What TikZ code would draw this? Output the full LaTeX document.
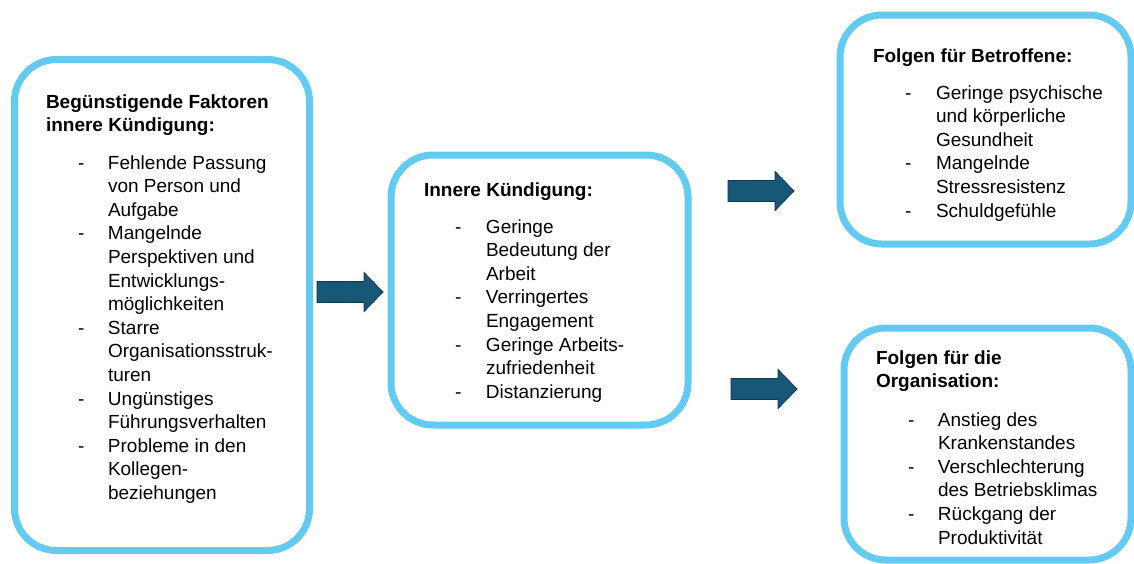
\documentclass[tikz,border=0pt]{standalone}
\usepackage{fontspec}
\setmainfont{Liberation Sans}
\definecolor{boxblue}{RGB}{99,203,242}
\definecolor{arrowfill}{RGB}{23,88,120}
\definecolor{arrowline}{RGB}{14,56,80}
\tikzset{
  box/.style={draw=boxblue, line width=7pt, rounded corners=42pt, fill=white, inner sep=0pt},
  txt/.style={inner sep=0pt, outer sep=0pt, anchor=base west, font=\fontsize{19pt}{23.6pt}\selectfont},
  head/.style={txt, font=\fontsize{19pt}{23.6pt}\selectfont\bfseries},
  arrowstyle/.style={fill=arrowfill, draw=arrowline, line width=0.8pt, line join=miter},
  barrow/.pic={\draw[arrowstyle] (0,-10.5) -- (47,-10.5) -- (47,-19.5) -- (66,0) -- (47,19.5) -- (47,10.5) -- (0,10.5) -- cycle;}
}
\begin{document}
\begin{tikzpicture}[x=1pt,y=-1pt]
\useasboundingbox (0,0) rectangle (1134,563);
% boxes
\node[box, minimum width=295pt, minimum height=491pt] (b1) at (162,305) {};
\node[box, minimum width=297pt, minimum height=270pt] (b2) at (539.5,290) {};
\node[box, minimum width=291pt, minimum height=229pt] (b3) at (985.5,129.5) {};
\node[box, minimum width=287pt, minimum height=232pt] (b4) at (987.5,444) {};
% box 1
\node[head] (h1) at (46,108) {\begin{tabular}[t]{@{}l@{}}Begünstigende Faktoren\\ innere Kündigung:\end{tabular}};
\node[txt] (l1) at (78,169) {\begin{tabular}[t]{@{}p{30pt}@{}l@{}}
-& Fehlende Passung\\
 & von Person und\\
 & Aufgabe\\
-& Mangelnde\\
 & Perspektiven und\\
 & Entwicklungs-\\
 & möglichkeiten\\
-& Starre\\
 & Organisationsstruk-\\
 & turen\\
-& Ungünstiges\\
 & Führungsverhalten\\
-& Probleme in den\\
 & Kollegen-\\
 & beziehungen
\end{tabular}};
% box 2
\node[head] (h2) at (424,196) {Innere Kündigung:};
\node[txt] (l2) at (455,233) {\begin{tabular}[t]{@{}p{31pt}@{}l@{}}
-& Geringe\\
 & Bedeutung der\\
 & Arbeit\\
-& Verringertes\\
 & Engagement\\
-& Geringe Arbeits-\\
 & zufriedenheit\\
-& Distanzierung
\end{tabular}};
% box 3
\node[head] (h3) at (873,62) {Folgen für Betroffene:};
\node[txt] (l3) at (905,99) {\begin{tabular}[t]{@{}p{31pt}@{}l@{}}
-& Geringe psychische\\
 & und körperliche\\
 & Gesundheit\\
-& Mangelnde\\
 & Stressresistenz\\
-& Schuldgefühle
\end{tabular}};
% box 4
\node[head] (h4) at (876,364) {\begin{tabular}[t]{@{}l@{}}Folgen für die\\ Organisation:\end{tabular}};
\node[txt] (l4) at (908,426) {\begin{tabular}[t]{@{}p{30pt}@{}l@{}}
-& Anstieg des\\
 & Krankenstandes\\
-& Verschlechterung\\
 & des Betriebsklimas\\
-& Rückgang der\\
 & Produktivität
\end{tabular}};
% arrows
\pic at (317,292) {barrow};
\pic at (728,191) {barrow};
\pic at (731,389) {barrow};
\end{tikzpicture}
\end{document}
